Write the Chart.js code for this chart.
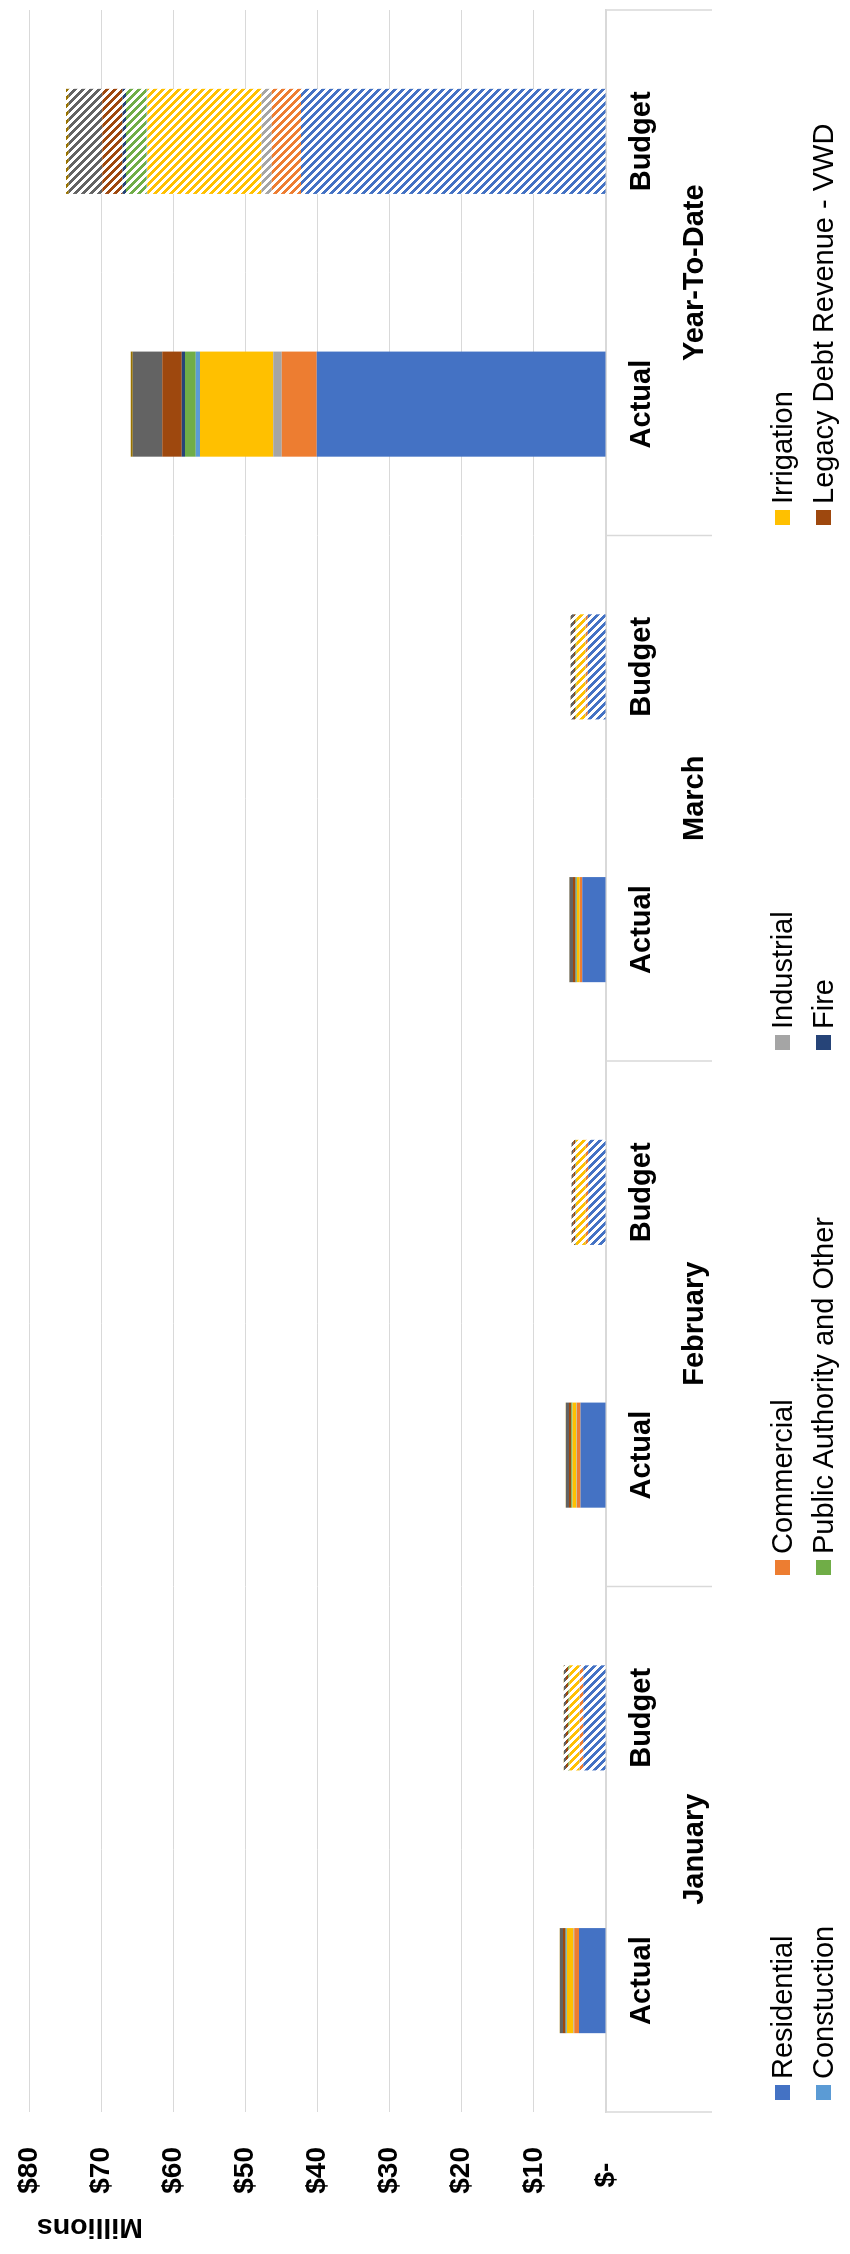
<!DOCTYPE html>
<html>
<head>
<meta charset="utf-8">
<script src="https://cdn.jsdelivr.net/npm/chart.js@4/dist/chart.umd.min.js"></script>
<style>
  html, body { margin: 0; padding: 0; background: #fff; }
  body { width: 850px; height: 2254px; overflow: hidden; position: relative; }
  #rot { position: absolute; left: 0; top: 0; width: 2254px; height: 850px;
         transform-origin: 0 0; transform: translateY(2254px) rotate(-90deg); background: #fff; }
  #c { position: absolute; left: 0; top: 0; }
  .lg { position: absolute; height: 40px; display: flex; align-items: center; white-space: nowrap;
        font-family: 'Liberation Sans', Arial, sans-serif; font-size: 29px; color: #000; }
  .lg span.m { display: inline-block; width: 15px; height: 15px; margin-right: 6px; }
</style>
</head>
<body>
<div id="rot">
  <canvas id="c" width="2254" height="850"></canvas>
  <div id="legend"></div>
</div>
<script>
// ---- data ----
const categories = ['Actual', 'Budget', 'Actual', 'Budget', 'Actual', 'Budget', 'Actual', 'Budget'];
const groups = ['January', 'February', 'March', 'Year-To-Date'];
const valueTicks = [0, 10, 20, 30, 40, 50, 60, 70, 80];

const seriesNames = ['Residential', 'Commercial', 'Industrial', 'Irrigation', 'Constuction',
  'Public Authority and Other', 'Fire', 'Legacy Debt Revenue - VWD', 'Series 9', 'Series 10'];
const residential = [3.74, 3.15, 3.55, 2.45, 3.28, 2.54, 40.1, 42.3];
const commercial  = [0.65, 0.46, 0.46, 0.32, 0.32, 0.24, 4.85, 4.06];
const industrial  = [0.10, 0.05, 0.08, 0.05, 0.05, 0.05, 1.17, 1.39];
const irrigation  = [0.93, 1.39, 0.55, 1.33, 0.37, 1.29, 10.16, 15.86];
const constuction = [0.05, 0.03, 0.05, 0.03, 0.05, 0.03, 0.60, 0.10];
const publicAuth  = [0.10, 0.14, 0.12, 0.10, 0.12, 0.10, 1.48, 2.85];
const fire        = [0.03, 0.04, 0.03, 0.03, 0.04, 0.03, 0.46, 0.46];
const legacyDebt  = [0.35, 0.28, 0.28, 0.22, 0.36, 0.15, 2.69, 2.83];
const series9     = [0.42, 0.28, 0.42, 0.22, 0.46, 0.45, 4.10, 4.64];
const series10    = [0.05, 0.03, 0.04, 0.03, 0.04, 0.03, 0.28, 0.38];
const seriesValues = [residential, commercial, industrial, irrigation, constuction,
  publicAuth, fire, legacyDebt, series9, series10];
const legendCount = 8;

// ---- styles ----
const colors = ['#4472C4', '#ED7D31', '#A5A5A5', '#FFC000', '#5B9BD5', '#70AD47',
  '#264478', '#9E480E', '#636363', '#997300'];
const FONT = "'Liberation Sans', Arial, sans-serif";

function hatch(color) {
  const c = document.createElement('canvas');
  c.width = 8; c.height = 8;
  const g = c.getContext('2d');
  g.fillStyle = '#fff';
  g.fillRect(0, 0, 8, 8);
  g.fillStyle = color;
  for (let i = 0; i < 8; i++) {
    for (let j = 0; j < 8; j++) {
      if ((((i - j) % 8) + 8) % 8 < 4) g.fillRect(i, j, 1, 1);
    }
  }
  return g.createPattern(c, 'repeat');
}

const datasets = seriesNames.map((name, k) => {
  const pat = hatch(colors[k]);
  return {
    label: name,
    data: seriesValues[k],
    backgroundColor: ctx => (ctx.dataIndex % 2 === 1 ? pat : colors[k]),
    borderWidth: 0,
    barPercentage: 0.4,
    categoryPercentage: 1.0,
    xAxisID: 'x',
    yAxisID: 'y'
  };
});

const separators = {
  id: 'separators',
  afterDraw(chart) {
    const s = chart.scales.x;
    const ctx = chart.ctx;
    ctx.save();
    ctx.strokeStyle = '#d9d9d9';
    ctx.lineWidth = 1.5;
    const n = groups.length;
    for (let g = 0; g <= n; g++) {
      const px = s.left + g * (s.right - s.left) / n;
      ctx.beginPath();
      ctx.moveTo(px, s.top);
      ctx.lineTo(px, s.top + 106);
      ctx.stroke();
    }
    ctx.restore();
  }
};

new Chart(document.getElementById('c'), {
  type: 'bar',
  data: { labels: categories, datasets },
  plugins: [separators],
  options: {
    responsive: false,
    animation: false,
    devicePixelRatio: 1,
    layout: { padding: { top: 29, right: 10, bottom: 136, left: 0 } },
    plugins: { legend: { display: false }, tooltip: { enabled: false } },
    scales: {
      x: {
        stacked: true,
        position: 'bottom',
        grid: { display: false, drawTicks: false },
        border: { display: true, color: '#d9d9d9', width: 1.5 },
        ticks: { color: '#000', padding: 19, maxRotation: 0, autoSkip: false,
                 font: { family: FONT, size: 29, weight: 'bold' } },
        afterFit: s => { s.height = 58; s.paddingLeft = 0; s.paddingRight = 0; }
      },
      x2: {
        type: 'category',
        labels: groups,
        position: 'bottom',
        offset: true,
        grid: { display: false, drawTicks: false },
        border: { display: false },
        ticks: { color: '#000', padding: 14, maxRotation: 0, autoSkip: false,
                 font: { family: FONT, size: 29, weight: 'bold' } },
        afterFit: s => { s.height = 50; s.paddingLeft = 0; s.paddingRight = 0; }
      },
      y: {
        stacked: true,
        min: 0,
        max: 80,
        afterBuildTicks: s => { s.ticks = valueTicks.map(v => ({ value: v })); },
        grid: { color: '#d9d9d9', lineWidth: 1, drawTicks: false },
        border: { display: false },
        ticks: {
          color: '#000', padding: 35,
          font: { family: FONT, size: 28, weight: 'bold' },
          callback: v => (v === 0 ? '$-  ' : '$' + v)
        },
        title: {
          display: true, text: 'Millions ', align: 'end', color: '#000',
          padding: { top: 10, bottom: 0 },
          font: { family: FONT, size: 28.5, weight: 'bold' }
        },
        afterFit: s => { s.width = 142; s.paddingTop = 0; s.paddingBottom = 0; }
      }
    }
  }
});

// ---- legend (grid of 4 columns) ----
const legendEl = document.getElementById('legend');
for (let k = 0; k < legendCount; k++) {
  const col = k % 4, row = Math.floor(k / 4);
  const d = document.createElement('div');
  d.className = 'lg';
  d.style.left = (154 + col * 525) + 'px';
  d.style.top = ((row === 0 ? 782 : 823) - 20) + 'px';
  const m = document.createElement('span');
  m.className = 'm';
  m.style.background = colors[k];
  const t = document.createElement('span');
  t.textContent = seriesNames[k];
  d.appendChild(m);
  d.appendChild(t);
  legendEl.appendChild(d);
}
</script>
</body>
</html>
